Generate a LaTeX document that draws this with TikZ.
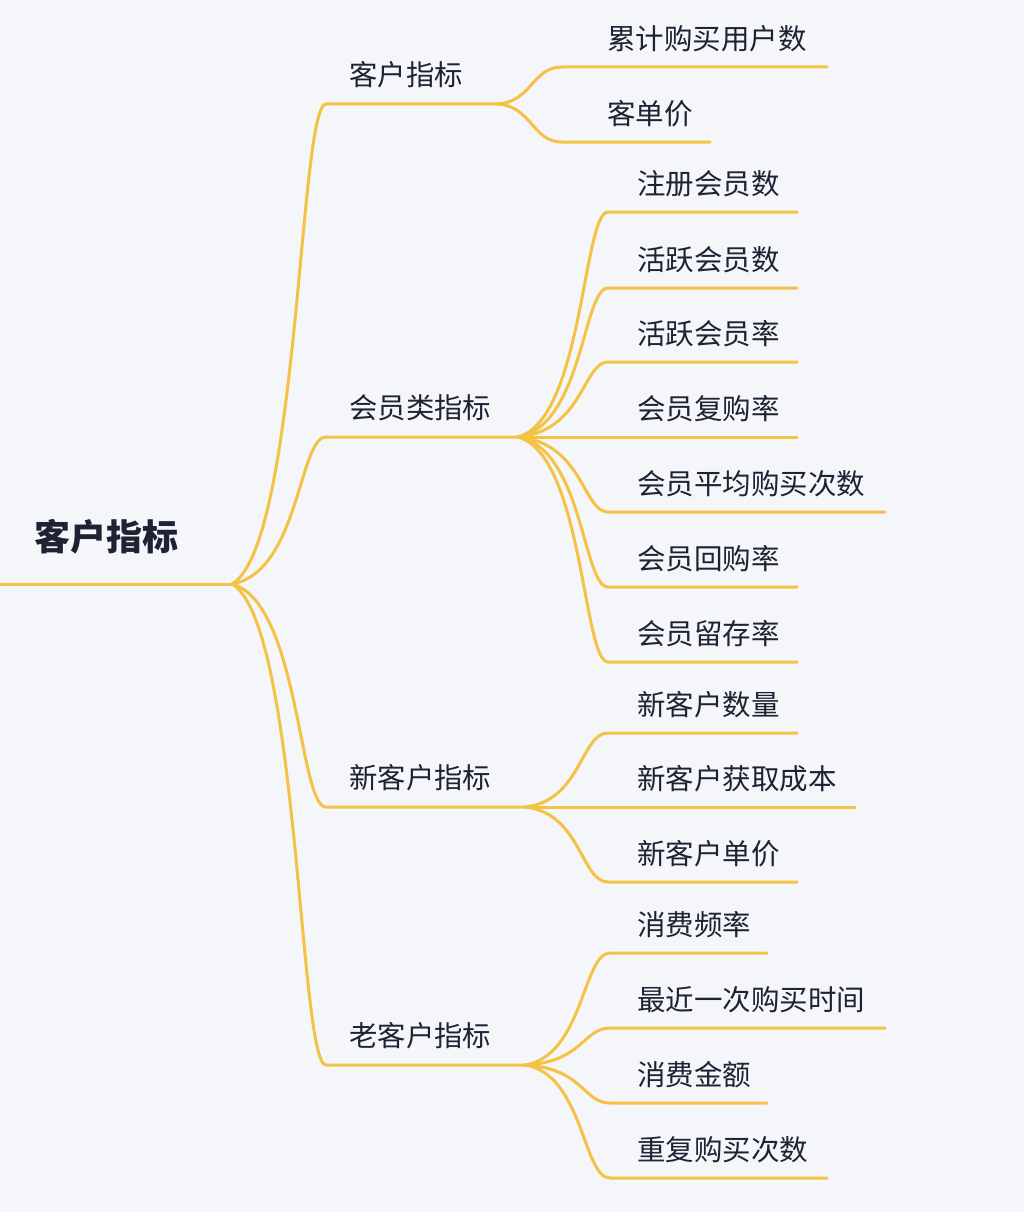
\documentclass[tikz,border=0pt]{standalone}
\usepackage{fontspec}
\newfontfamily\cjk{Noto Sans CJK SC}
\definecolor{bgc}{HTML}{F5F6FA}
\definecolor{lnc}{HTML}{F4C245}
\definecolor{txc}{HTML}{1E2232}
\tikzset{
  branch/.style={draw=lnc, line width=3pt, line cap=round},
  roottxt/.style={font=\cjk\bfseries\fontsize{36}{36}\selectfont, text=txc, anchor=west, inner sep=0pt},
  lone/.style={font=\cjk\fontsize{28.4}{28.4}\selectfont, text=txc, anchor=west, inner sep=0pt},
  ltwo/.style={font=\cjk\fontsize{28.5}{28.5}\selectfont, text=txc, anchor=west, inner sep=0pt}
}
\begin{document}
\begin{tikzpicture}[x=1pt,y=-1pt]
\fill[bgc] (0,0) rectangle (1024,1212);
\useasboundingbox (0,0) rectangle (1024,1212);

% root
\node[roottxt] (root) at (34,537) {客户指标};
\coordinate (r0) at (0,584);
\coordinate (rb) at (232,584);
\draw[branch] (r0) -- (rb);

% level 1
\foreach \n/\y/\bx/\t in {a/104/497/客户指标, b/437/518/会员类指标, c/807/525/新客户指标, d/1065/525/老客户指标}{
  \node[lone] (\n) at (349,{\y-29}) {\t};
  \coordinate (\n s) at (326,\y);
  \coordinate (\n b) at (\bx,\y);
  \draw[branch] (rb) .. controls (299,{584+0.08*(\y-584)}) and (299,\y) .. (\n s) -- (\n b);
}

% group a
\foreach \n/\y/\e/\t in {a1/67/827/累计购买用户数, a2/142/710/客单价}{
  \node[ltwo] (\n) at (607,{\y-28}) {\t};
  \coordinate (\n s) at (562,\y);
  \coordinate (\n e) at (\e,\y);
  \draw[branch] (ab) .. controls (532,{104+0.05*(\y-104)}) and (532,\y) .. (\n s) -- (\n e);
}

% group b
\foreach \n/\y/\e/\t in {b1/212/797/注册会员数, b2/288/797/活跃会员数, b3/362/797/活跃会员率, b5/512/885/会员平均购买次数, b6/587/797/会员回购率, b7/662/797/会员留存率}{
  \node[ltwo] (\n) at (637,{\y-28}) {\t};
  \coordinate (\n s) at (608,\y);
  \coordinate (\n e) at (\e,\y);
  \draw[branch] (bb) .. controls (583,{437+0.08*(\y-437)}) and (583,\y) .. (\n s) -- (\n e);
}
\node[ltwo] (b4) at (637,409) {会员复购率};
\coordinate (b4e) at (797,437);
\draw[branch] (bb) -- (b4e);

% group c
\foreach \n/\y/\e/\t in {c1/733/797/新客户数量, c3/882/797/新客户单价}{
  \node[ltwo] (\n) at (637,{\y-28}) {\t};
  \coordinate (\n s) at (608,\y);
  \coordinate (\n e) at (\e,\y);
  \draw[branch] (cb) .. controls (581,{807+0.08*(\y-807)}) and (581,\y) .. (\n s) -- (\n e);
}
\node[ltwo] (c2) at (637,779) {新客户获取成本};
\coordinate (c2e) at (855,807);
\draw[branch] (cb) -- (c2e);

% group d
\foreach \n/\y/\e/\t in {d1/953/767/消费频率, d2/1028/885/最近一次购买时间, d3/1103/767/消费金额, d4/1178/827/重复购买次数}{
  \node[ltwo] (\n) at (637,{\y-28}) {\t};
  \coordinate (\n s) at (610,\y);
  \coordinate (\n e) at (\e,\y);
  \draw[branch] (db) .. controls (583,{1065+0.08*(\y-1065)}) and (583,\y) .. (\n s) -- (\n e);
}
\end{tikzpicture}
\end{document}
